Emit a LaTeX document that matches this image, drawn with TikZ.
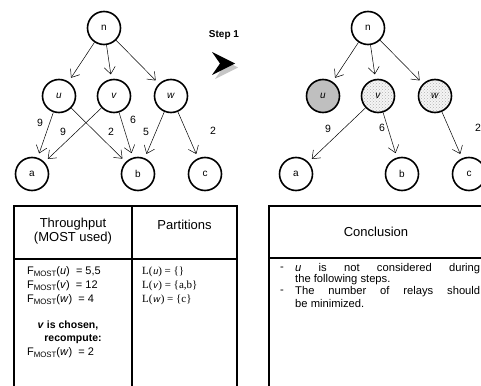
\documentclass[tikz,border=0pt]{standalone}
\usepackage{fontspec}
\setmainfont{Liberation Sans}
\newfontfamily\timesfont{Liberation Serif}
\usetikzlibrary{arrows.meta,patterns}

\newcommand{\fmost}[1]{F{\raisebox{-0.3ex}{\fontsize{7.8}{9}\selectfont MOST}}(\textit{#1})}

\begin{document}
\begin{tikzpicture}[x=1pt,y=-1pt,
  vertex/.style={circle,draw,line width=1.6pt,minimum size=33pt,inner sep=0pt,
                 font=\fontsize{10}{12}\selectfont},
  dropped/.style={vertex,fill=gray!50},
  kept/.style={vertex,preaction={fill=gray!8},pattern=crosshatch dots,pattern color=gray!60},
  link/.style={line width=0.5pt,-{Straight Barb[length=7pt,width=11pt]},shorten >=4.5pt},
  wt/.style={font=\fontsize{10.5}{12}\selectfont,inner sep=0pt},
  grid/.style={line width=1.6pt},
  head/.style={font=\fontsize{13}{14.5}\selectfont,align=center,inner sep=0pt},
  body/.style={font=\fontsize{11}{13}\selectfont,anchor=west,inner sep=0pt},
  note/.style={font=\fontsize{11.2}{13}\selectfont,anchor=west,inner sep=0pt},
  boldline/.style={font=\fontsize{10.5}{13}\selectfont\bfseries,inner sep=0pt}]

\clip (0,0) rectangle (481,385);

% ---------- graph before step 1 ----------
\node[vertex] (n) at (104,28) {n};
\node[vertex] (u) at (59,96) {\textit{u}};
\node[vertex] (v) at (114,96) {\textit{v}};
\node[vertex] (w) at (171,96) {\textit{w}};
\node[vertex] (a) at (32,174) {a};
\node[vertex] (b) at (138,174) {b};
\node[vertex] (c) at (205,174) {c};

\draw[link] (n) -- (u);
\draw[link] (n) -- (v);
\draw[link] (n) -- (w);
\draw[link] (u) -- (a);
\draw[link] (u) -- (b);
\draw[link] (v) -- (a);
\draw[link] (v) -- (b);
\draw[link] (w) -- (b);
\draw[link] (w) -- (c);

\node[wt] (ua) at (40,123) {9};
\node[wt] (va) at (63,132) {9};
\node[wt] (ub) at (111,132) {2};
\node[wt] (vb) at (133,120) {6};
\node[wt] (wb) at (146,132) {5};
\node[wt] (wc) at (213,131) {2};

% ---------- step arrow ----------
\node[font=\fontsize{10}{12}\selectfont\bfseries,inner sep=0pt] (step) at (224,35) {Step 1};
\fill[gray!45] (215,56) -- (238,67.5) -- (215,79) -- (223,67.5) -- cycle;
\fill[black] (212,52) -- (235,63.5) -- (212,75) -- (220,63.5) -- cycle;

% ---------- graph after step 1 ----------
\node[vertex] (n2) at (368,28) {n};
\node[dropped] (u2) at (323,96) {\textit{u}};
\node[kept] (v2) at (378,96) {\textit{v}};
\node[kept] (w2) at (435,96) {\textit{w}};
\node[vertex] (a2) at (296,174) {a};
\node[vertex] (b2) at (402,174) {b};
\node[vertex] (c2) at (469,174) {c};

\draw[link] (n2) -- (u2);
\draw[link] (n2) -- (v2);
\draw[link] (n2) -- (w2);
\draw[link] (v2) -- (a2);
\draw[link] (v2) -- (b2);
\draw[link] (w2) -- (c2);

\node[wt] (va2) at (328,129) {9};
\node[wt] (vb2) at (382,128) {6};
\node[wt] (wc2) at (478,128) {2};

% ---------- left table ----------
\draw[grid] (14,206) rectangle (237,400);
\draw[grid] (132,206) -- (132,400);
\draw[grid] (14,259) -- (237,259);

\node[head] (th1) at (73,231) {Throughput\\(MOST used)};
\node[head] (th2) at (184.5,224.5) {Partitions};

\node[body] (f1) at (27,272) {\fmost{u}\ \ = 5,5};
\node[body] (f2) at (27,286) {\fmost{v}\ \ = 12};
\node[body] (f3) at (27,300) {\fmost{w}\ \ = 4};
\node[boldline] (ch) at (68,326) {\textit{v} is chosen,};
\node[boldline] (rc) at (73,339) {recompute:};
\node[body] (f4) at (27,352.5) {\fmost{w}\ \ = 2};

\node[body] (p1) at (142,272) {\timesfont L(\textsf{\textit{u}}) = \{\}};
\node[body] (p2) at (142,286) {\timesfont L(\textsf{\textit{v}}) = \{a,b\}};
\node[body] (p3) at (142,300) {\timesfont L(\textsf{\textit{w}}) = \{c\}};

% ---------- right table ----------
\draw[grid] (269,206) rectangle (490,400);
\draw[grid] (269,258) -- (490,258);

\node[head] (cn) at (376,232) {Conclusion};

\node[note] (dash1) at (280,268.5) {-};
\node[note] (line1) at (295,268.5) {\makebox[185pt][s]{\textit{u} is not considered during}};
\node[note] (line2) at (295,280) {the following steps.};
\node[note] (dash2) at (280,291.5) {-};
\node[note] (line3) at (295,291.5) {\makebox[185pt][s]{The number of relays should}};
\node[note] (line4) at (295,303) {be minimized.};

\end{tikzpicture}
\end{document}
